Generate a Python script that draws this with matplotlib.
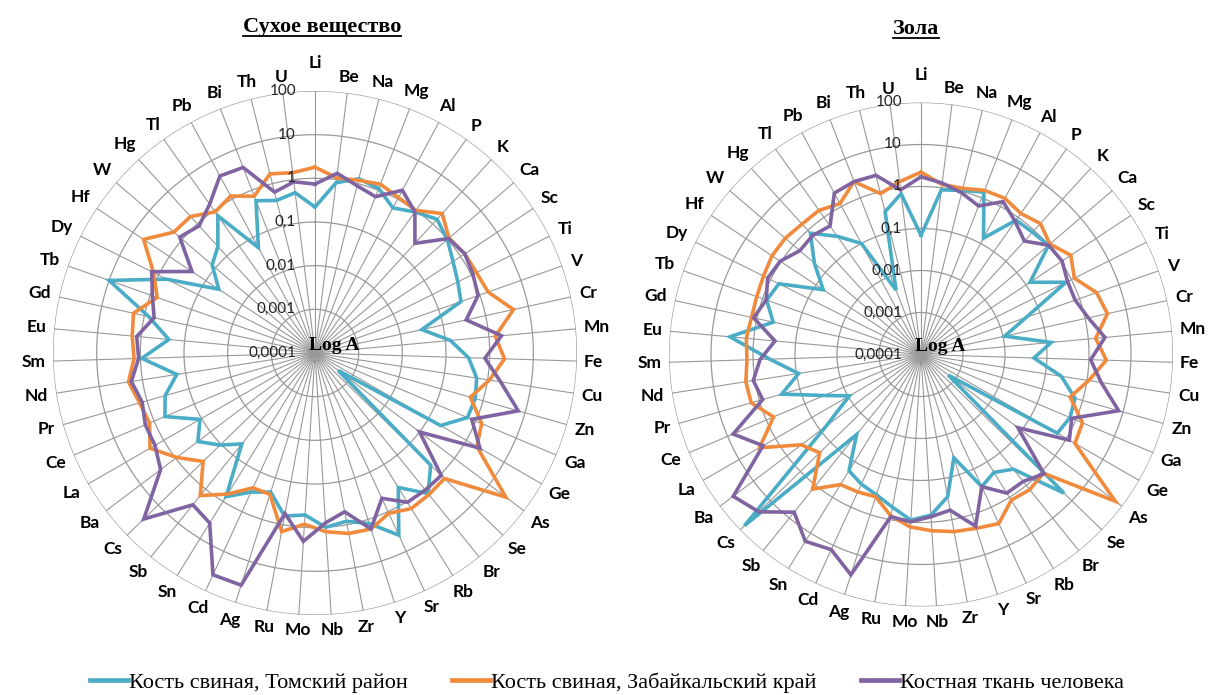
import matplotlib
matplotlib.use("Agg")
import matplotlib.pyplot as plt
from matplotlib.lines import Line2D
from matplotlib.ticker import NullLocator
import numpy as np

elements = ["Li", "Be", "Na", "Mg", "Al", "P", "K", "Ca", "Sc", "Ti", "V", "Cr", "Mn",
            "Fe", "Cu", "Zn", "Ga", "Ge", "As", "Se", "Br", "Rb", "Sr", "Y", "Zr", "Nb",
            "Mo", "Ru", "Ag", "Cd", "Sn", "Sb", "Cs", "Ba", "La", "Ce", "Pr", "Nd", "Sm",
            "Eu", "Gd", "Tb", "Dy", "Hf", "W", "Hg", "Tl", "Pb", "Bi", "Th", "U"]

tick_values = [0.0001, 0.001, 0.01, 0.1, 1, 10, 100]
tick_labels = ["0,0001", "0,001", "0,01", "0,1", "1", "10", "100"]

series_names = ["Кость свиная, Томский район",
                "Кость свиная, Забайкальский край",
                "Костная ткань человека"]

# Сухое вещество
dry_tomsk = [0.22, 0.85, 1.3, 1.1, 0.59, 0.91, 1.4, 0.98, 0.62, 0.45, 0.35, 0.032, 0.13,
             0.33, 0.56, 0.65, 0.62, 0.21, 0.00046, 0.49, 1.35, 0.42, 3.9, 1.26, 0.83, 1.0,
             0.52, 0.63, 0.22, 0.32, 0.74, 0.047, 0.107, 0.23, 0.11, 0.54, 0.37, 0.16, 0.93,
             0.23, 0.79, 10, 0.62, 0.044, 0.126, 0.2, 0.71, 0.055, 0.55, 0.4, 0.5]
dry_zabaik = [1.8, 1.1, 1.2, 1.4, 1.1, 1.0, 2.1, 1.1, 1.3, 1.35, 1.6, 4.5, 1.4,
              2.2, 1.1, 0.5, 1.4, 1.9, 30, 1.35, 1.45, 1.55, 1.1, 1.7, 1.6, 1.26,
              0.85, 1.45, 0.25, 0.25, 0.63, 1.55, 0.37, 0.93, 2.3, 1.3, 1.5, 2.1, 1.4,
              1.6, 1.8, 0.68, 1.35, 5.1, 1.8, 1.7, 0.91, 1.2, 0.71, 1.7, 1.45]
dry_human = [0.74, 1.4, 0.89, 0.69, 1.7, 0.91, 0.25, 1.07, 1.3, 1.1, 0.91, 0.35, 1.95,
             0.78, 2.0, 6.9, 0.79, 2.3, 0.1, 1.07, 1.07, 1.05, 0.46, 1.7, 0.5, 0.79,
             2.1, 0.55, 38, 39, 3.8, 2.9, 29, 2.7, 1.7, 1.66, 1.3, 1.8, 1.1,
             1.26, 0.59, 0.89, 1.5, 0.24, 1.2, 0.87, 1.5, 4.0, 3.6, 0.63, 0.89]

# Зола
ash_tomsk = [0.069, 0.89, 1.07, 1.4, 0.14, 0.83, 0.87, 1.0, 0.13, 0.72, 0.045, 0.011, 0.13,
             0.049, 0.24, 0.65, 0.71, 0.56, 0.00065, 5.5, 0.32, 0.2, 0.29, 0.038, 0.28, 0.68,
             0.89, 0.5, 0.32, 0.25, 0.18, 0.028, 72, 0.068, 0.0093, 0.032, 0.28, 0.089, 0.4,
             3.7, 0.4, 0.79, 0.6, 0.062, 0.22, 0.81, 0.28, 0.1, 0.0044, 0.32, 0.72]
ash_zabaik = [2.2, 1.2, 1.2, 1.55, 1.66, 1.3, 1.66, 1.1, 1.9, 1.2, 2.7, 3.5, 1.5,
              2.6, 1.1, 0.49, 1.5, 1.7, 63, 1.15, 1.35, 1.2, 2.7, 2.2, 1.95, 1.6,
              1.3, 0.81, 0.36, 0.4, 0.44, 1.3, 0.23, 0.37, 2.75, 0.65, 1.6, 1.66, 1.4,
              1.5, 1.35, 1.4, 1.55, 1.8, 1.8, 1.6, 1.6, 1.2, 2.6, 0.89, 1.4]
ash_human = [1.7, 1.3, 0.93, 0.62, 1.35, 0.76, 0.45, 1.0, 1.07, 0.79, 0.78, 1.2, 2.5,
             1.1, 2.2, 7.8, 0.79, 1.2, 0.078, 1.2, 0.76, 0.76, 0.29, 1.95, 0.59, 0.74,
             0.98, 0.85, 32, 13, 17, 6.6, 24, 40, 2.2, 7.2, 0.83, 1.1, 0.68,
             0.31, 1.2, 0.81, 1.2, 1.05, 0.63, 0.68, 0.56, 2.3, 2.6, 2.5, 0.89]

colors = ["#4BACC6", "#F08A3C", "#8064A2"]
grid_c = "#999999"

W, H = 1219, 695
fig = plt.figure(figsize=(W / 100, H / 100), dpi=100)

angles = np.arange(len(elements)) * 2 * np.pi / len(elements)


def make_radar(cx, cy, R, data):
    rect = [(cx - R) / W, (H - cy - R) / H, 2 * R / W, 2 * R / H]
    ax = fig.add_axes(rect, projection="polar")
    ax.set_theta_zero_location("N")
    ax.set_theta_direction(-1)
    ax.set_rscale("log")
    ax.set_rlim(tick_values[0], tick_values[-1])
    ax.grid(False)
    ax.xaxis.set_major_locator(NullLocator())
    ax.yaxis.set_major_locator(NullLocator())
    ax.yaxis.set_minor_locator(NullLocator())
    ax.spines["polar"].set_visible(False)
    ax.patch.set_alpha(0)

    circ = np.linspace(0, 2 * np.pi, 400)
    for v in tick_values[1:]:
        ax.plot(circ, np.full_like(circ, v), color=grid_c, lw=0.9, zorder=1)
    for t in angles:
        ax.plot([t, t], [tick_values[0], tick_values[-1]], color=grid_c, lw=0.8, zorder=1)

    closed = np.append(angles, angles[0])
    for vals, col in zip(data, colors):
        ax.plot(closed, vals + vals[:1], color=col, lw=2.6, zorder=3,
                solid_joinstyle="miter")

    for v, s in zip(tick_values, tick_labels):
        ax.annotate(s, xy=(0, v), xytext=(-19, 0), textcoords="offset pixels",
                    ha="right", va="center", fontsize=11, family="Lato",
                    color="#222222", zorder=4, annotation_clip=False)

    ax.annotate("Log A", xy=(0, tick_values[0]), xytext=(-6, 8),
                textcoords="offset pixels", ha="left", va="center", fontsize=14,
                fontweight="bold", family="Liberation Serif", zorder=5,
                annotation_clip=False)

    labs = []
    for t, lab in zip(angles, elements):
        a = ax.annotate(lab, xy=(t, tick_values[-1]), xytext=(0, 0),
                        textcoords="offset pixels", ha="center", va="center",
                        fontsize=12.5, fontweight="bold", family="Lato",
                        annotation_clip=False)
        labs.append((a, t))
    return ax, labs


ax1, labs1 = make_radar(315, 353, 262, [dry_tomsk, dry_zabaik, dry_human])
ax2, labs2 = make_radar(921, 354.5, 252, [ash_tomsk, ash_zabaik, ash_human])

t1 = fig.text(322 / W, 1 - 27 / H, "Сухое вещество", ha="center", va="center",
              fontsize=16, fontweight="bold", family="Liberation Serif")
t2 = fig.text(916 / W, 1 - 29 / H, "Зола", ha="center", va="center",
              fontsize=16, fontweight="bold", family="Liberation Serif")

handles = [Line2D([], [], color=c, lw=3.4) for c in colors]
fig.legend(handles, series_names, loc="center", bbox_to_anchor=(607 / W, 1 - 683 / H),
           ncol=3, frameon=False, handlelength=1.7, handletextpad=0.05,
           columnspacing=2.0, prop={"family": "Liberation Serif", "size": 16})

fig.canvas.draw()
renderer = fig.canvas.get_renderer()

# push element labels just outside the outer ring, like Excel does
for labs in (labs1, labs2):
    for a, t in labs:
        bb = a.get_window_extent(renderer)
        gap = 7 + (13 if t == 0 else 0)
        d = gap + 0.5 * (bb.width * abs(np.sin(t)) + bb.height * abs(np.cos(t)))
        a.xyann = (d * np.sin(t), d * np.cos(t))

# underline the titles
inv = fig.transFigure.inverted()
for t in (t1, t2):
    bb = t.get_window_extent(renderer)
    (x0, y0), (x1, y1) = inv.transform([(bb.x0, bb.y0 + 1), (bb.x1, bb.y0 + 1)])
    fig.add_artist(Line2D([x0, x1], [y0, y1], color="black", lw=1.3,
                          transform=fig.transFigure))

fig.savefig("out.png", dpi=100)
